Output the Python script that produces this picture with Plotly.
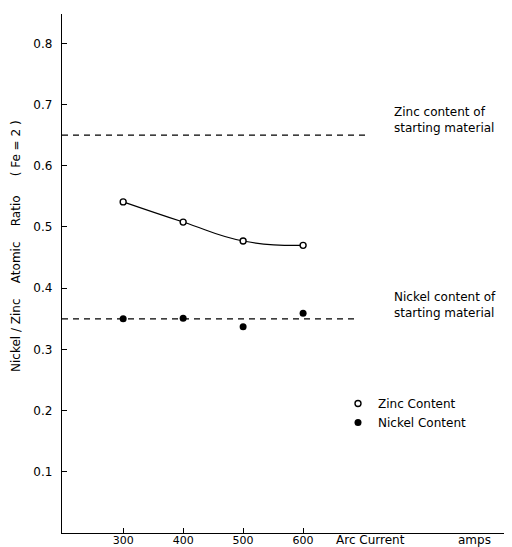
import plotly.graph_objects as go

arc_current = [300, 400, 500, 600]
zinc_content = [0.541, 0.508, 0.477, 0.470]
nickel_content = [0.350, 0.351, 0.337, 0.359]
zinc_start = 0.65
nickel_start = 0.35
y_ticks = [0.1, 0.2, 0.3, 0.4, 0.5, 0.6, 0.7, 0.8]
x_ticks = [300, 400, 500, 600]

FONT = "DejaVu Sans"
# page body has an 8px margin; figure is placed at (8, 8)
OX, OY = 8, 8
L, R, T, B = 62, 510, 14, 533  # plot area in window pixels
W, H = 512 - OX, 547 - OY

def px(xw):
    return (xw - L) / (R - L)

def py(yw):
    return (B - yw) / (B - T)

fig = go.Figure()

fig.add_trace(go.Scatter(x=[198, 708], y=[zinc_start, zinc_start], mode="lines",
                         line=dict(color="black", width=1.2, dash="6px,5px"), showlegend=False))
fig.add_trace(go.Scatter(x=[198, 690], y=[nickel_start, nickel_start], mode="lines",
                         line=dict(color="black", width=1.2, dash="6px,5px"), showlegend=False))

fig.add_trace(go.Scatter(x=arc_current, y=zinc_content, mode="lines",
                         line=dict(color="black", width=1.1, shape="spline", smoothing=1.3),
                         showlegend=False))
fig.add_trace(go.Scatter(x=arc_current, y=zinc_content, mode="markers", name="Zinc Content",
                         marker=dict(symbol="circle", size=6, color="white",
                                     line=dict(color="black", width=1.4))))
fig.add_trace(go.Scatter(x=arc_current, y=nickel_content, mode="markers", name="Nickel Content",
                         marker=dict(symbol="circle", size=7, color="black")))

tf = dict(family=FONT, size=12, color="black")
fig.add_annotation(x=px(392), y=py(120), xref="paper", yref="paper", xanchor="left", yanchor="middle",
                   text="Zinc content of<br>starting material", showarrow=False, align="left", font=tf)
fig.add_annotation(x=px(392), y=py(305), xref="paper", yref="paper", xanchor="left", yanchor="middle",
                   text="Nickel content of<br>starting material", showarrow=False, align="left", font=tf)

fig.add_annotation(x=px(16), y=py(246), xref="paper", yref="paper", xanchor="center", yanchor="middle",
                   text="Nickel / Zinc    Atomic    Ratio     ( Fe = 2 )",
                   textangle=-90, showarrow=False, font=tf)
fig.add_annotation(x=px(370), y=py(540), xref="paper", yref="paper", xanchor="center", yanchor="middle",
                   text="Arc Current", showarrow=False, font=tf)
fig.add_annotation(x=px(474), y=py(540), xref="paper", yref="paper", xanchor="center", yanchor="middle",
                   text="amps", showarrow=False, font=tf)

fig.update_layout(
    width=W, height=H,
    margin=dict(l=L - OX, r=W - (R - OX), t=T - OY, b=H - (B - OY)),
    paper_bgcolor="white", plot_bgcolor="white",
    font=dict(family=FONT, size=12, color="black"),
    showlegend=True,
    legend=dict(x=px(338), y=py(389), xanchor="left", yanchor="top",
                bgcolor="rgba(0,0,0,0)", font=dict(family=FONT, size=12),
                itemwidth=30, tracegroupgap=0),
    xaxis=dict(range=[198, 945], showgrid=False, zeroline=False, showline=True,
               linecolor="black", linewidth=1.3, ticks="inside", ticklen=5, tickcolor="black",
               tickvals=x_ticks, ticktext=[str(v) for v in x_ticks], automargin=False,
               tickfont=dict(size=11), ticklabelstandoff=-3),
    yaxis=dict(range=[0, 0.848], showgrid=False, zeroline=False, showline=True,
               linecolor="black", linewidth=1.3, ticks="inside", ticklen=5, tickcolor="black",
               tickvals=y_ticks, ticktext=["0.1", "0.2", "0.3", "0.4", "0.5", "0.6", "0.7", "0.8"],
               automargin=False, tickfont=dict(size=12), ticklabelstandoff=6),
)

fig.write_html("out.html")
